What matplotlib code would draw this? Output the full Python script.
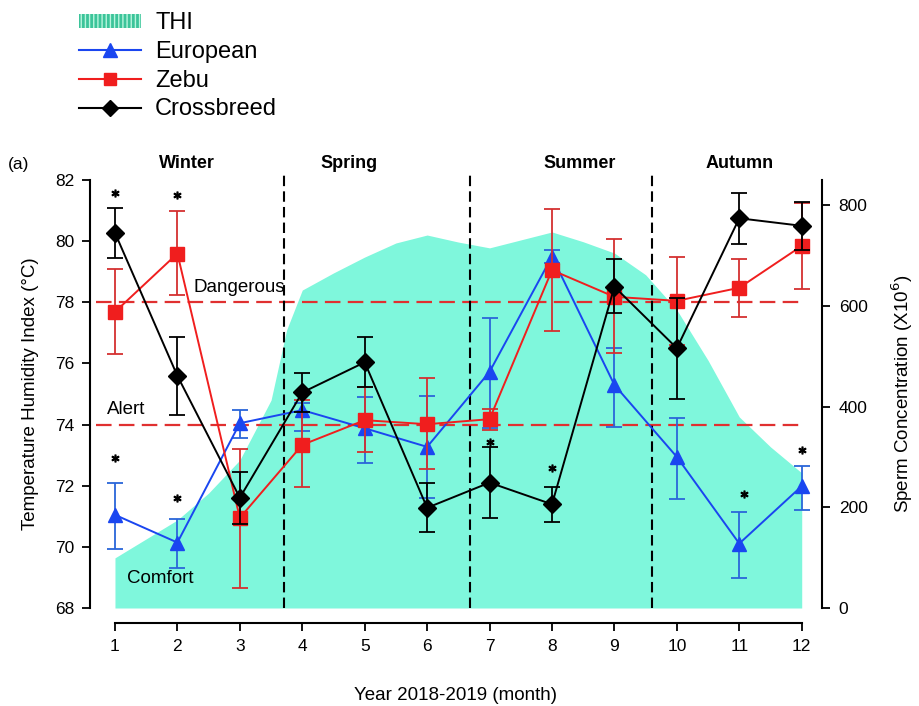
import numpy as np
import matplotlib
matplotlib.use("Agg")
import matplotlib.pyplot as plt
from matplotlib.patches import Patch
from matplotlib.lines import Line2D

plt.rcParams['font.family'] = ['Liberation Sans', 'DejaVu Sans']

months = list(range(1, 13))

# THI envelope (left axis), read along the top edge of the shaded area
thi_x = [1, 2, 2.5, 3, 3.5, 3.75, 4, 4.5, 5, 5.5, 6, 6.5, 7, 7.5, 8, 8.5, 9, 9.5, 10, 10.5, 11, 11.5, 12]
thi_y = [69.64, 70.88, 71.76, 72.84, 74.8, 77.1, 78.4, 78.96, 79.48, 79.94, 80.2, 79.97, 79.78,
         80.04, 80.3, 79.98, 79.61, 78.9, 77.75, 76.1, 74.25, 73.27, 72.42]

# sperm concentration (x10^6), mean and error bar ends
euro_mean = [185, 130, 367, 393, 357, 320, 469, 698, 443, 300, 128, 242]
euro_hi = [249, 177, 393, 407, 420, 421, 575, 711, 517, 378, 191, 283]
euro_lo = [117, 79, 337, 352, 287, 219, 358, 685, 360, 216, 59, 195]

zebu_mean = [588, 704, 179, 324, 373, 365, 375, 671, 618, 610, 636, 719]
zebu_hi = [673, 789, 315, 413, 439, 457, 395, 792, 732, 698, 693, 805]
zebu_lo = [504, 622, 39, 241, 310, 276, 353, 550, 506, 522, 578, 633]

cross_mean = [745, 461, 219, 428, 488, 199, 249, 206, 638, 516, 774, 759]
cross_hi = [794, 539, 271, 467, 539, 248, 320, 240, 693, 616, 825, 806]
cross_lo = [695, 383, 167, 389, 439, 150, 179, 171, 585, 416, 723, 710]

# significance marks
star_x = [1, 2, 1, 2, 7, 8, 11.07, 12]
star_y = [824, 820, 297, 218, 329, 279, 226, 314]

seasons = ["Winter", "Spring", "Summer", "Autumn"]
season_x = [2.15, 4.75, 8.45, 11.0]
season_breaks = [3.7, 6.68, 9.6]

fill_col = '#7ff7dc'
blue, red = '#1a46f0', '#f01e1e'

fig = plt.figure(figsize=(9.19, 7.06), dpi=100)
ax = fig.add_axes([90/919, 98/706, 732/919, 428/706])
ax2 = ax.twinx()

ax.set_xlim(0.6, 12.325)
ax.set_ylim(68, 82)
ax2.set_ylim(0, 850)

ax.fill_between(thi_x, 68, thi_y, color=fill_col, lw=0, zorder=1)

# THI thresholds
for lvl in (78, 74):
    ax.plot([0.7, 12], [lvl, lvl], color='#e03030', ls=(0, (7, 3.3)), lw=1.6, zorder=2)
ax.text(2.26, 78.2, "Dangerous", fontsize=13.5, ha='left', va='bottom', zorder=3)
ax.text(0.87, 74.2, "Alert", fontsize=13.5, ha='left', va='bottom', zorder=3)
ax.text(1.19, 68.95, "Comfort", fontsize=13.5, ha='left', va='center', zorder=3)

for b in season_breaks:
    ax.plot([b, b], [68, 82.15], color='black', ls=(0, (5, 2.5)), lw=1.5, zorder=2, clip_on=False)
for s, sx in zip(seasons, season_x):
    ax.text(sx, 82.55, s, fontsize=13, fontweight='bold', ha='center', va='center')

def draw(mean, lo, hi, color, ecolor, marker, ms, z):
    yerr = [np.array(mean) - np.array(lo), np.array(hi) - np.array(mean)]
    ax2.errorbar(months, mean, yerr=yerr, color=color, ecolor=ecolor, marker=marker, ms=ms,
                 mfc=color, mec=color, lw=1.4, elinewidth=1.3, capsize=6, capthick=1.3, zorder=z)

draw(euro_mean, euro_lo, euro_hi, blue, '#2a66d9', '^', 10, 4)
draw(zebu_mean, zebu_lo, zebu_hi, red, '#d43030', 's', 9.5, 5)
draw(cross_mean, cross_lo, cross_hi, 'black', 'black', 'D', 9, 6)

ax2.plot(star_x, star_y, ls='none', marker='$*$', ms=5, color='black', zorder=7)

# detached axes
for side in ('top', 'right'):
    ax.spines[side].set_visible(False)
for side in ('top', 'left', 'bottom'):
    ax2.spines[side].set_visible(False)
ax.spines['bottom'].set_position(('outward', 11))
ax.spines['bottom'].set_bounds(1, 12)
for sp in (ax.spines['left'], ax.spines['bottom'], ax2.spines['right']):
    sp.set_linewidth(1.5)

ax.set_xticks(months)
ax.set_yticks(range(68, 83, 2))
ax2.set_yticks(range(0, 801, 200))
ax.tick_params(axis='both', labelsize=12.5, width=1.3, length=6, direction='out', pad=5)
ax2.tick_params(axis='y', labelsize=12.5, width=1.3, length=6, direction='out', pad=6)

ax.set_xlabel("Year 2018-2019 (month)", fontsize=13.5, labelpad=24)
ax.set_ylabel("Temperature Humidity Index (°C)", fontsize=13.5, labelpad=12)
ax2.set_ylabel("Sperm Concentration (X10$^6$)", fontsize=13.5, labelpad=16)

fig.text(8/919, 1 - 164/706, "(a)", fontsize=12.5, va='center')

handles = [
    Patch(facecolor='#3cc49a', edgecolor='#b8f5dd', hatch='||||', lw=0),
    Line2D([], [], color=blue, marker='^', ms=10),
    Line2D([], [], color=red, marker='s', ms=9),
    Line2D([], [], color='black', marker='D', ms=8),
]
fig.legend(handles, ["THI", "European", "Zebu", "Crossbreed"], loc='upper left',
           bbox_to_anchor=(70/919, 1 - 3/706), frameon=False, fontsize=17,
           handlelength=2.6, handleheight=0.55, handletextpad=0.6, labelspacing=0.28,
           borderaxespad=0)

fig.savefig("out.png", dpi=100)
